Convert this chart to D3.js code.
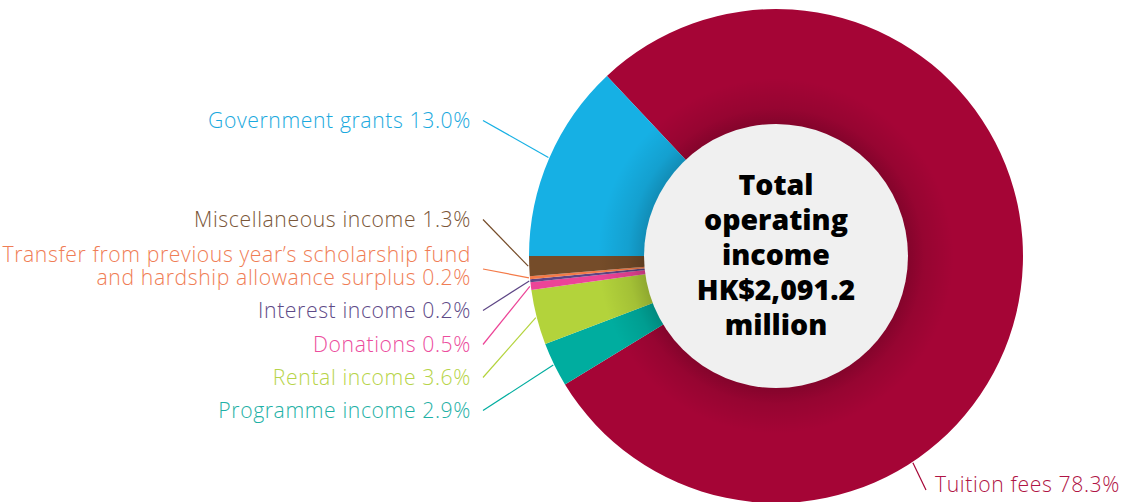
<!DOCTYPE html>
<html>
<head>
<meta charset="utf-8">
<script src="https://cdn.jsdelivr.net/npm/d3@7"></script>
<style>
  html, body { margin: 0; padding: 0; background: #ffffff; }
  svg { display: block; }
</style>
</head>
<body>
<svg id="chart" width="1132" height="502"></svg>
<script>
// Operating income breakdown, in pie order (clockwise from the tuition slice)
const categories = [
  "Tuition fees",
  "Programme income",
  "Rental income",
  "Donations",
  "Interest income",
  "Transfer from previous year’s scholarship fund and hardship allowance surplus",
  "Miscellaneous income",
  "Government grants"
];
const shares = [78.3, 2.9, 3.6, 0.5, 0.2, 0.2, 1.3, 13.0];
const sliceColors = ["#a50536", "#00ad9f", "#b3d33b", "#ec4497", "#5d4585", "#f47a48", "#754c29", "#16b0e4"];
const labelColors = ["#b01445", "#1fb1a6", "#b7d449", "#ec4c9d", "#5e4a87", "#f07d55", "#7a5638", "#1aa9de"];
const totalIncome = 2091.2;
const centreTitle = ["Total", "operating", "income"];

const cx = 776, cy = 256;
const outerR = 247, innerR = 132;

const svg = d3.select("#chart");
const defs = svg.append("defs");

// soft shadow cast by the centre disc onto the ring (gradient in the ring's local space)
const shade = defs.append("radialGradient")
  .attr("id", "ringShade")
  .attr("gradientUnits", "userSpaceOnUse")
  .attr("cx", 0).attr("cy", 0).attr("r", outerR);
shade.append("stop").attr("offset", innerR / outerR).attr("stop-color", "#000").attr("stop-opacity", 0.2);
shade.append("stop").attr("offset", (innerR + 16) / outerR).attr("stop-color", "#000").attr("stop-opacity", 0.09);
shade.append("stop").attr("offset", (innerR + 46) / outerR).attr("stop-color", "#000").attr("stop-opacity", 0);

const total = d3.sum(shares);
const govShare = shares[shares.length - 1] / total;
// the government slice sits just above the nine o'clock line
const start = -Math.PI / 2 + govShare * 2 * Math.PI;

const pie = d3.pie().sort(null).value(d => d)
  .startAngle(start).endAngle(start + 2 * Math.PI);
const arcs = pie(shares);

const arc = d3.arc().innerRadius(innerR - 1).outerRadius(outerR);

const g = svg.append("g").attr("transform", `translate(${cx},${cy})`);

g.selectAll("path.slice")
  .data(arcs)
  .join("path")
  .attr("class", "slice")
  .attr("d", arc)
  .attr("fill", (d, i) => sliceColors[i]);

g.append("path")
  .attr("d", d3.arc().innerRadius(innerR - 1).outerRadius(outerR).startAngle(0).endAngle(2 * Math.PI)())
  .attr("fill", "url(#ringShade)");

// centre disc
g.append("circle")
  .attr("r", innerR)
  .attr("fill", "#f0f0f0");

const fmt = d3.format(",.1f");
const centreLines = centreTitle.concat([`HK$${fmt(totalIncome)}`, "million"]);
const lineGap = 35;
svg.append("text")
  .attr("text-anchor", "middle")
  .attr("font-family", "'Open Sans', 'Noto Sans', sans-serif")
  .attr("font-weight", 800)
  .attr("font-size", 28.5)
  .attr("fill", "#000")
  .selectAll("tspan")
  .data(centreLines)
  .join("tspan")
  .attr("x", cx)
  .attr("y", (d, i) => cy - 61 + i * lineGap)
  .text(d => d);

// label layout: baselines for the left-hand column, right-aligned
const leftBaselines = { 7: [128], 6: [227], 5: [262, 285], 4: [318], 3: [352], 2: [385], 1: [418] };
const labelRight = 471, leaderStartX = 483;
const labelFont = "'Open Sans', 'Noto Sans', sans-serif";
const labelSize = 21.2;
const labelSpacing = 0.6;

function pointAt(angle, r) {
  return [cx + r * Math.sin(angle), cy - r * Math.cos(angle)];
}

const labels = svg.append("g");
arcs.forEach((a, i) => {
  const text = `${categories[i]} ${shares[i].toFixed(1)}%`;
  const col = labelColors[i];
  if (i === 0) {
    // tuition label sits at the lower right
    const p = pointAt(146.5 * Math.PI / 180, outerR + 1);
    labels.append("line")
      .attr("x1", p[0]).attr("y1", p[1])
      .attr("x2", 926).attr("y2", 490)
      .attr("stroke", sliceColors[i]).attr("stroke-width", 1.2);
    labels.append("text")
      .attr("x", 935).attr("y", 492)
      .attr("font-family", labelFont).attr("font-weight", 300)
      .attr("font-size", labelSize).attr("letter-spacing", labelSpacing)
      .attr("fill", col)
      .text(text);
    return;
  }
  const bl = leftBaselines[i];
  let lines = [text];
  if (bl.length === 2) {
    const cut = text.indexOf(" fund") + 5;
    lines = [text.slice(0, cut), text.slice(cut + 1)];
  }
  const t = labels.append("text")
    .attr("text-anchor", "end")
    .attr("font-family", labelFont).attr("font-weight", 300)
    .attr("font-size", labelSize).attr("letter-spacing", labelSpacing)
    .attr("fill", col);
  t.selectAll("tspan").data(lines).join("tspan")
    .attr("x", labelRight).attr("y", (d, k) => bl[k]).text(d => d);
  const mid = (a.startAngle + a.endAngle) / 2;
  const p = pointAt(mid, outerR + 1);
  const y0 = bl.length === 2 ? (bl[0] + bl[1]) / 2 - 4.5 : bl[0] - 7.5;
  labels.append("line")
    .attr("x1", leaderStartX).attr("y1", y0)
    .attr("x2", p[0]).attr("y2", p[1])
    .attr("stroke", sliceColors[i]).attr("stroke-width", 1.2);
});
</script>
</body>
</html>
